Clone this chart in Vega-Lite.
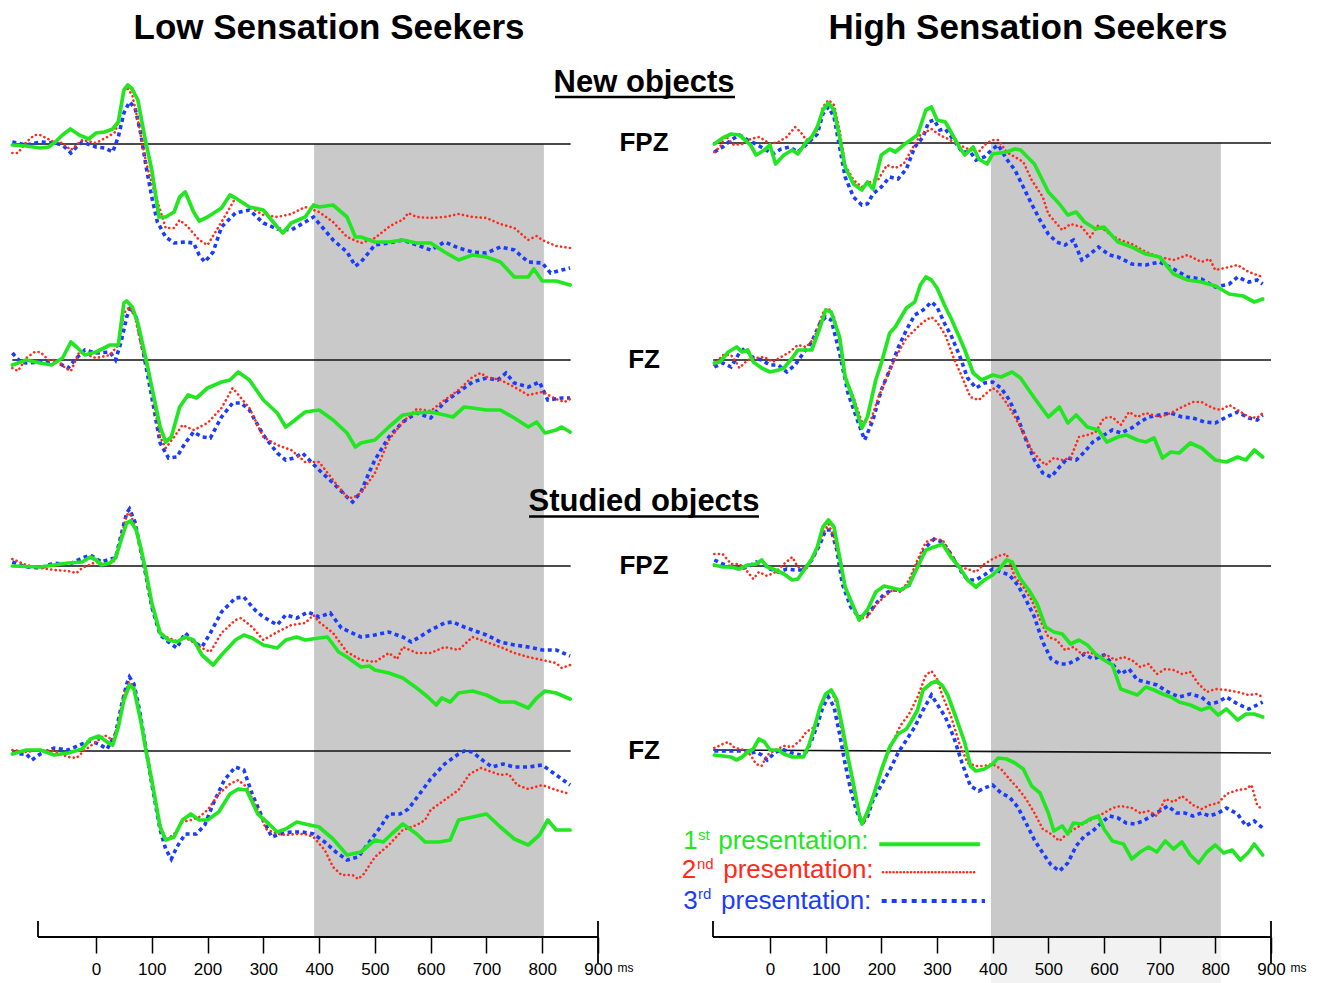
{
"$schema":"https://vega.github.io/schema/vega-lite/v6.json",
"width":1327,"height":937,
"autosize":{"type":"none"},
"padding":{"left":0,"top":0,"right":0,"bottom":46},
"background":"white",
"config":{"view":{"stroke":null},"font":"Liberation Sans","text":{"font":"Liberation Sans"}},
"resolve":{"scale":{"x":"independent","y":"independent"},"axis":{"x":"independent","y":"independent"}},
"datasets":{
"lo_fpzn_1":[{"t":-150,"v":-0.1},{"t":-125,"v":-0.2},{"t":-100,"v":-0.4},{"t":-85,"v":-0.3},{"t":-73,"v":0.2},{"t":-60,"v":0.9},{"t":-46,"v":1.5},{"t":-30,"v":0.9},{"t":-13,"v":0.5},{"t":0,"v":1.1},{"t":15,"v":1.2},{"t":30,"v":1.5},{"t":40,"v":2.2},{"t":50,"v":5.4},{"t":57,"v":5.9},{"t":65,"v":5.5},{"t":75,"v":4.4},{"t":85,"v":1.4},{"t":90,"v":0},{"t":100,"v":-2.6},{"t":113,"v":-7.3},{"t":125,"v":-7.3},{"t":140,"v":-6.8},{"t":150,"v":-5.3},{"t":160,"v":-4.8},{"t":175,"v":-6.8},{"t":185,"v":-7.7},{"t":200,"v":-7.3},{"t":225,"v":-6.4},{"t":240,"v":-5.1},{"t":250,"v":-5.4},{"t":275,"v":-6.3},{"t":300,"v":-6.6},{"t":325,"v":-8.3},{"t":335,"v":-8.9},{"t":350,"v":-7.9},{"t":375,"v":-7.3},{"t":390,"v":-6.1},{"t":400,"v":-6.3},{"t":425,"v":-6.1},{"t":450,"v":-7.3},{"t":465,"v":-9.3},{"t":475,"v":-9.3},{"t":500,"v":-9.8},{"t":525,"v":-9.8},{"t":550,"v":-9.6},{"t":575,"v":-9.9},{"t":600,"v":-9.9},{"t":625,"v":-10.8},{"t":650,"v":-11.6},{"t":675,"v":-11.1},{"t":700,"v":-11.3},{"t":725,"v":-11.8},{"t":750,"v":-13.3},{"t":775,"v":-13.3},{"t":785,"v":-12.5},{"t":800,"v":-13.7},{"t":825,"v":-13.7},{"t":850,"v":-14.1}],
"lo_fpzn_2":[{"t":-150,"v":-0.9},{"t":-140,"v":-0.9},{"t":-125,"v":0.2},{"t":-110,"v":0.9},{"t":-100,"v":0.9},{"t":-75,"v":0.2},{"t":-60,"v":0.1},{"t":-45,"v":-0.6},{"t":-25,"v":0.4},{"t":0,"v":0.1},{"t":20,"v":0.7},{"t":35,"v":1.2},{"t":50,"v":5.1},{"t":55,"v":5.7},{"t":65,"v":4.9},{"t":75,"v":2.4},{"t":90,"v":-1.9},{"t":100,"v":-3.9},{"t":125,"v":-8.4},{"t":140,"v":-8.4},{"t":150,"v":-7.6},{"t":165,"v":-8.3},{"t":185,"v":-9.6},{"t":200,"v":-10.1},{"t":225,"v":-7.8},{"t":250,"v":-5.4},{"t":275,"v":-6.3},{"t":300,"v":-7.1},{"t":325,"v":-7.3},{"t":350,"v":-7.0},{"t":375,"v":-6.3},{"t":400,"v":-6.8},{"t":425,"v":-7.8},{"t":450,"v":-9.3},{"t":475,"v":-9.9},{"t":500,"v":-9.4},{"t":525,"v":-8.3},{"t":540,"v":-7.8},{"t":550,"v":-7.6},{"t":560,"v":-6.9},{"t":575,"v":-7.3},{"t":600,"v":-7.4},{"t":625,"v":-7.3},{"t":650,"v":-7.0},{"t":675,"v":-7.3},{"t":700,"v":-7.4},{"t":725,"v":-8.0},{"t":750,"v":-8.4},{"t":775,"v":-9.6},{"t":790,"v":-9.2},{"t":800,"v":-9.6},{"t":825,"v":-10.2},{"t":850,"v":-10.4}],
"lo_fpzn_3":[{"t":-150,"v":0.2},{"t":-125,"v":-0.1},{"t":-100,"v":0.2},{"t":-75,"v":0.1},{"t":-60,"v":-0.1},{"t":-45,"v":-0.9},{"t":-35,"v":-0.3},{"t":-25,"v":0.2},{"t":0,"v":-0.3},{"t":15,"v":-0.4},{"t":30,"v":-0.8},{"t":40,"v":0.7},{"t":50,"v":3.1},{"t":60,"v":4.2},{"t":70,"v":3.6},{"t":80,"v":1.1},{"t":90,"v":-2.3},{"t":100,"v":-5.3},{"t":110,"v":-7.8},{"t":125,"v":-9.3},{"t":140,"v":-9.9},{"t":160,"v":-9.8},{"t":175,"v":-9.9},{"t":185,"v":-11.1},{"t":195,"v":-11.8},{"t":210,"v":-10.8},{"t":225,"v":-8.3},{"t":250,"v":-6.9},{"t":275,"v":-6.6},{"t":300,"v":-7.9},{"t":325,"v":-8.5},{"t":350,"v":-8.6},{"t":375,"v":-7.8},{"t":390,"v":-7.3},{"t":410,"v":-8.6},{"t":425,"v":-9.6},{"t":450,"v":-10.8},{"t":465,"v":-12.2},{"t":475,"v":-11.8},{"t":500,"v":-10.1},{"t":525,"v":-9.9},{"t":550,"v":-9.6},{"t":575,"v":-10.1},{"t":600,"v":-10.6},{"t":625,"v":-9.8},{"t":650,"v":-10.4},{"t":675,"v":-10.8},{"t":700,"v":-10.9},{"t":725,"v":-10.3},{"t":750,"v":-10.6},{"t":775,"v":-11.8},{"t":800,"v":-11.9},{"t":815,"v":-12.9},{"t":835,"v":-12.6},{"t":850,"v":-12.4}],
"lo_fzn_1":[{"t":-150,"v":-0.5},{"t":-125,"v":0},{"t":-100,"v":-0.3},{"t":-80,"v":-0.5},{"t":-60,"v":0.2},{"t":-45,"v":1.8},{"t":-35,"v":1.3},{"t":-20,"v":0.5},{"t":0,"v":0.8},{"t":25,"v":1.5},{"t":40,"v":1.5},{"t":50,"v":5.7},{"t":55,"v":5.9},{"t":65,"v":5.3},{"t":75,"v":3.7},{"t":90,"v":0},{"t":100,"v":-2.7},{"t":115,"v":-6.7},{"t":125,"v":-8.2},{"t":135,"v":-7.7},{"t":150,"v":-4.7},{"t":165,"v":-3.5},{"t":180,"v":-3.8},{"t":200,"v":-2.8},{"t":225,"v":-2.2},{"t":240,"v":-2.0},{"t":255,"v":-1.2},{"t":275,"v":-2.0},{"t":300,"v":-4.0},{"t":325,"v":-5.3},{"t":340,"v":-6.7},{"t":350,"v":-6.3},{"t":375,"v":-5.2},{"t":400,"v":-5.0},{"t":425,"v":-6.0},{"t":450,"v":-7.3},{"t":465,"v":-8.7},{"t":475,"v":-8.3},{"t":500,"v":-8.0},{"t":525,"v":-6.7},{"t":550,"v":-5.5},{"t":575,"v":-5.3},{"t":600,"v":-5.2},{"t":625,"v":-5.5},{"t":640,"v":-5.7},{"t":660,"v":-4.7},{"t":675,"v":-4.8},{"t":700,"v":-5.0},{"t":725,"v":-5.0},{"t":750,"v":-5.8},{"t":775,"v":-6.7},{"t":790,"v":-6.2},{"t":805,"v":-7.3},{"t":825,"v":-7.0},{"t":835,"v":-6.7},{"t":850,"v":-7.2}],
"lo_fzn_2":[{"t":-150,"v":-0.8},{"t":-140,"v":-1.1},{"t":-125,"v":0.2},{"t":-110,"v":0.8},{"t":-100,"v":0.8},{"t":-85,"v":0},{"t":-70,"v":0},{"t":-55,"v":-0.8},{"t":-45,"v":-1.1},{"t":-30,"v":0.8},{"t":0,"v":0.2},{"t":25,"v":0.5},{"t":40,"v":1.5},{"t":50,"v":4.7},{"t":60,"v":5.3},{"t":70,"v":4.3},{"t":80,"v":1.7},{"t":90,"v":-0.3},{"t":100,"v":-3.0},{"t":115,"v":-7.7},{"t":125,"v":-8.8},{"t":140,"v":-7.7},{"t":155,"v":-6.5},{"t":175,"v":-7.0},{"t":200,"v":-6.3},{"t":225,"v":-4.8},{"t":245,"v":-2.8},{"t":260,"v":-3.8},{"t":275,"v":-4.8},{"t":300,"v":-7.7},{"t":325,"v":-8.5},{"t":350,"v":-9.0},{"t":375,"v":-10.2},{"t":400,"v":-10.2},{"t":425,"v":-12.0},{"t":450,"v":-13.7},{"t":460,"v":-13.8},{"t":475,"v":-13.3},{"t":500,"v":-11.3},{"t":525,"v":-8.0},{"t":550,"v":-6.2},{"t":575,"v":-4.9},{"t":600,"v":-5.1},{"t":625,"v":-4.0},{"t":650,"v":-3.0},{"t":675,"v":-1.7},{"t":690,"v":-1.3},{"t":700,"v":-1.7},{"t":725,"v":-2.0},{"t":750,"v":-2.7},{"t":775,"v":-3.5},{"t":800,"v":-3.2},{"t":825,"v":-3.9},{"t":840,"v":-4.2},{"t":850,"v":-3.9}],
"lo_fzn_3":[{"t":-150,"v":0.7},{"t":-135,"v":-0.2},{"t":-125,"v":-0.3},{"t":-100,"v":-0.2},{"t":-75,"v":-0.1},{"t":-50,"v":-0.8},{"t":-35,"v":0.2},{"t":-20,"v":1.0},{"t":0,"v":0.7},{"t":25,"v":0.8},{"t":35,"v":0},{"t":45,"v":1.8},{"t":55,"v":4.3},{"t":62,"v":5.3},{"t":72,"v":4.3},{"t":85,"v":0.7},{"t":100,"v":-3.7},{"t":115,"v":-8.3},{"t":130,"v":-9.8},{"t":145,"v":-9.7},{"t":160,"v":-8.3},{"t":175,"v":-7.2},{"t":190,"v":-7.7},{"t":205,"v":-7.8},{"t":225,"v":-5.7},{"t":245,"v":-4.3},{"t":260,"v":-4.3},{"t":275,"v":-5.0},{"t":300,"v":-7.5},{"t":325,"v":-9.3},{"t":340,"v":-10.0},{"t":355,"v":-9.8},{"t":370,"v":-9.3},{"t":400,"v":-11.0},{"t":425,"v":-12.3},{"t":450,"v":-13.7},{"t":460,"v":-14.2},{"t":475,"v":-13.2},{"t":490,"v":-11.2},{"t":500,"v":-10.0},{"t":525,"v":-7.7},{"t":550,"v":-6.2},{"t":575,"v":-5.3},{"t":600,"v":-5.8},{"t":625,"v":-4.2},{"t":650,"v":-3.2},{"t":675,"v":-2.2},{"t":700,"v":-1.8},{"t":720,"v":-2.0},{"t":735,"v":-1.3},{"t":750,"v":-2.3},{"t":775,"v":-2.7},{"t":795,"v":-2.2},{"t":810,"v":-4.0},{"t":835,"v":-3.8},{"t":850,"v":-3.8}],
"lo_fpzs_1":[{"t":-150,"v":0},{"t":-100,"v":-0.1},{"t":-50,"v":0.3},{"t":-25,"v":0.4},{"t":-10,"v":0.9},{"t":0,"v":0.6},{"t":10,"v":0.1},{"t":25,"v":0.3},{"t":35,"v":0.8},{"t":45,"v":2.6},{"t":55,"v":4.3},{"t":62,"v":4.5},{"t":72,"v":3.6},{"t":80,"v":1.9},{"t":90,"v":-0.7},{"t":100,"v":-3.7},{"t":115,"v":-6.7},{"t":130,"v":-7.4},{"t":145,"v":-7.6},{"t":160,"v":-7.1},{"t":175,"v":-7.4},{"t":190,"v":-8.9},{"t":210,"v":-9.9},{"t":225,"v":-8.9},{"t":250,"v":-7.4},{"t":265,"v":-6.9},{"t":280,"v":-7.2},{"t":300,"v":-7.9},{"t":325,"v":-8.2},{"t":340,"v":-7.4},{"t":360,"v":-7.1},{"t":375,"v":-7.4},{"t":400,"v":-7.2},{"t":415,"v":-7.1},{"t":435,"v":-8.6},{"t":450,"v":-9.1},{"t":475,"v":-10.1},{"t":490,"v":-10.0},{"t":500,"v":-10.4},{"t":525,"v":-10.7},{"t":550,"v":-11.2},{"t":575,"v":-12.2},{"t":595,"v":-13.1},{"t":610,"v":-13.9},{"t":620,"v":-13.2},{"t":635,"v":-13.6},{"t":650,"v":-12.7},{"t":675,"v":-12.5},{"t":700,"v":-12.9},{"t":725,"v":-13.6},{"t":750,"v":-13.6},{"t":775,"v":-14.2},{"t":790,"v":-13.2},{"t":805,"v":-12.5},{"t":825,"v":-12.7},{"t":850,"v":-13.3}],
"lo_fpzs_2":[{"t":-150,"v":0.7},{"t":-125,"v":0.1},{"t":-100,"v":-0.2},{"t":-75,"v":-0.4},{"t":-50,"v":-0.5},{"t":-35,"v":-0.7},{"t":-25,"v":-0.2},{"t":0,"v":0.4},{"t":20,"v":0.1},{"t":35,"v":0.6},{"t":45,"v":2.9},{"t":55,"v":5.1},{"t":60,"v":5.3},{"t":70,"v":4.1},{"t":80,"v":1.6},{"t":90,"v":-1.1},{"t":100,"v":-4.1},{"t":115,"v":-6.7},{"t":130,"v":-7.2},{"t":145,"v":-7.5},{"t":160,"v":-7.2},{"t":175,"v":-7.6},{"t":190,"v":-8.2},{"t":205,"v":-8.6},{"t":225,"v":-6.7},{"t":250,"v":-5.4},{"t":260,"v":-5.2},{"t":280,"v":-6.1},{"t":300,"v":-7.4},{"t":325,"v":-6.6},{"t":350,"v":-5.9},{"t":375,"v":-5.7},{"t":390,"v":-4.9},{"t":400,"v":-5.6},{"t":425,"v":-6.7},{"t":450,"v":-8.6},{"t":475,"v":-9.4},{"t":500,"v":-9.6},{"t":525,"v":-8.7},{"t":540,"v":-9.3},{"t":550,"v":-8.1},{"t":575,"v":-8.7},{"t":600,"v":-8.7},{"t":625,"v":-8.1},{"t":650,"v":-8.4},{"t":675,"v":-7.1},{"t":700,"v":-7.6},{"t":725,"v":-8.1},{"t":750,"v":-8.7},{"t":775,"v":-9.1},{"t":800,"v":-9.4},{"t":825,"v":-9.7},{"t":835,"v":-10.2},{"t":850,"v":-9.9}],
"lo_fpzs_3":[{"t":-150,"v":0.4},{"t":-125,"v":-0.1},{"t":-100,"v":-0.2},{"t":-75,"v":0.3},{"t":-50,"v":0.1},{"t":-25,"v":0.8},{"t":-10,"v":1.1},{"t":10,"v":0.4},{"t":25,"v":0.7},{"t":35,"v":0.8},{"t":45,"v":3.1},{"t":55,"v":5.3},{"t":60,"v":5.7},{"t":70,"v":4.4},{"t":80,"v":1.6},{"t":90,"v":-1.1},{"t":100,"v":-4.1},{"t":115,"v":-6.9},{"t":130,"v":-7.6},{"t":145,"v":-8.2},{"t":160,"v":-6.7},{"t":175,"v":-7.6},{"t":190,"v":-8.1},{"t":205,"v":-6.7},{"t":225,"v":-4.6},{"t":250,"v":-3.2},{"t":265,"v":-3.1},{"t":285,"v":-4.4},{"t":300,"v":-5.1},{"t":325,"v":-5.9},{"t":340,"v":-4.9},{"t":360,"v":-5.2},{"t":380,"v":-4.6},{"t":400,"v":-5.1},{"t":420,"v":-4.7},{"t":440,"v":-6.2},{"t":475,"v":-7.1},{"t":500,"v":-6.9},{"t":525,"v":-6.6},{"t":550,"v":-7.1},{"t":565,"v":-7.6},{"t":580,"v":-7.1},{"t":600,"v":-6.4},{"t":625,"v":-5.7},{"t":640,"v":-5.6},{"t":660,"v":-6.1},{"t":675,"v":-6.4},{"t":700,"v":-6.9},{"t":725,"v":-7.6},{"t":750,"v":-7.9},{"t":775,"v":-8.1},{"t":800,"v":-8.4},{"t":825,"v":-8.4},{"t":850,"v":-9.0}],
"lo_fzs_1":[{"t":-150,"v":-0.3},{"t":-125,"v":0.1},{"t":-100,"v":0.1},{"t":-75,"v":-0.4},{"t":-50,"v":-0.2},{"t":-25,"v":0.2},{"t":-10,"v":1.2},{"t":5,"v":1.5},{"t":20,"v":0.9},{"t":30,"v":0.6},{"t":40,"v":2.4},{"t":50,"v":5.1},{"t":60,"v":6.6},{"t":68,"v":6.2},{"t":80,"v":3.1},{"t":90,"v":-0.1},{"t":100,"v":-2.9},{"t":115,"v":-7.6},{"t":125,"v":-8.9},{"t":140,"v":-8.6},{"t":155,"v":-6.9},{"t":170,"v":-6.3},{"t":185,"v":-6.9},{"t":200,"v":-6.9},{"t":220,"v":-6.1},{"t":240,"v":-4.3},{"t":255,"v":-3.8},{"t":270,"v":-3.9},{"t":290,"v":-6.3},{"t":310,"v":-7.3},{"t":325,"v":-8.1},{"t":340,"v":-7.8},{"t":360,"v":-7.1},{"t":375,"v":-7.3},{"t":400,"v":-7.6},{"t":425,"v":-8.8},{"t":450,"v":-10.4},{"t":475,"v":-10.1},{"t":500,"v":-8.9},{"t":515,"v":-9.1},{"t":530,"v":-8.3},{"t":550,"v":-7.3},{"t":575,"v":-8.3},{"t":590,"v":-9.1},{"t":615,"v":-9.1},{"t":635,"v":-8.9},{"t":650,"v":-6.9},{"t":675,"v":-6.6},{"t":700,"v":-6.3},{"t":725,"v":-7.6},{"t":750,"v":-8.8},{"t":775,"v":-9.4},{"t":795,"v":-8.4},{"t":810,"v":-6.9},{"t":825,"v":-7.9},{"t":850,"v":-7.9}],
"lo_fzs_2":[{"t":-150,"v":0.1},{"t":-125,"v":-0.1},{"t":-100,"v":0.1},{"t":-75,"v":0},{"t":-50,"v":-0.6},{"t":-35,"v":-0.7},{"t":-20,"v":0.1},{"t":0,"v":0.9},{"t":15,"v":1.6},{"t":30,"v":1.1},{"t":40,"v":2.7},{"t":50,"v":5.7},{"t":60,"v":6.9},{"t":68,"v":6.4},{"t":80,"v":3.2},{"t":90,"v":0.1},{"t":100,"v":-3.3},{"t":115,"v":-7.4},{"t":125,"v":-8.9},{"t":140,"v":-8.3},{"t":155,"v":-7.1},{"t":170,"v":-6.9},{"t":185,"v":-6.6},{"t":200,"v":-5.9},{"t":220,"v":-4.3},{"t":240,"v":-3.3},{"t":255,"v":-2.9},{"t":270,"v":-3.6},{"t":290,"v":-5.9},{"t":305,"v":-7.8},{"t":325,"v":-8.3},{"t":340,"v":-8.4},{"t":360,"v":-8.3},{"t":375,"v":-8.3},{"t":390,"v":-8.6},{"t":410,"v":-9.9},{"t":425,"v":-11.6},{"t":440,"v":-12.4},{"t":460,"v":-12.4},{"t":470,"v":-12.8},{"t":480,"v":-12.3},{"t":500,"v":-10.6},{"t":525,"v":-9.4},{"t":550,"v":-7.9},{"t":575,"v":-7.4},{"t":590,"v":-6.9},{"t":600,"v":-5.9},{"t":625,"v":-4.9},{"t":650,"v":-3.9},{"t":670,"v":-2.3},{"t":690,"v":-1.7},{"t":710,"v":-2.1},{"t":725,"v":-2.4},{"t":740,"v":-2.3},{"t":755,"v":-3.4},{"t":775,"v":-3.8},{"t":800,"v":-3.4},{"t":825,"v":-3.9},{"t":850,"v":-4.3}],
"lo_fzs_3":[{"t":-150,"v":-0.1},{"t":-135,"v":-0.3},{"t":-125,"v":-0.3},{"t":-115,"v":-0.9},{"t":-100,"v":-0.3},{"t":-75,"v":0.3},{"t":-50,"v":0.1},{"t":-25,"v":0.7},{"t":-10,"v":1.0},{"t":5,"v":0.7},{"t":20,"v":0.2},{"t":35,"v":1.7},{"t":45,"v":4.4},{"t":55,"v":6.7},{"t":60,"v":7.4},{"t":68,"v":6.7},{"t":78,"v":4.1},{"t":90,"v":0.1},{"t":100,"v":-3.3},{"t":115,"v":-7.9},{"t":125,"v":-9.8},{"t":135,"v":-10.8},{"t":145,"v":-9.6},{"t":160,"v":-8.3},{"t":180,"v":-8.3},{"t":195,"v":-7.4},{"t":210,"v":-5.3},{"t":230,"v":-2.9},{"t":250,"v":-1.6},{"t":265,"v":-1.9},{"t":280,"v":-4.3},{"t":300,"v":-6.9},{"t":315,"v":-8.6},{"t":330,"v":-8.3},{"t":350,"v":-8.1},{"t":370,"v":-8.1},{"t":390,"v":-8.3},{"t":410,"v":-9.1},{"t":430,"v":-10.1},{"t":450,"v":-10.9},{"t":470,"v":-10.6},{"t":490,"v":-9.1},{"t":510,"v":-7.6},{"t":525,"v":-6.3},{"t":545,"v":-6.3},{"t":560,"v":-5.8},{"t":580,"v":-4.3},{"t":600,"v":-2.8},{"t":625,"v":-1.3},{"t":650,"v":-0.3},{"t":660,"v":0},{"t":675,"v":-0.1},{"t":690,"v":-0.8},{"t":710,"v":-1.6},{"t":730,"v":-1.3},{"t":750,"v":-1.6},{"t":775,"v":-1.6},{"t":800,"v":-1.4},{"t":825,"v":-2.4},{"t":850,"v":-3.4}],
"hi_fpzn_1":[{"t":-100,"v":-0.1},{"t":-85,"v":0.5},{"t":-70,"v":0.9},{"t":-55,"v":0.8},{"t":-45,"v":0.3},{"t":-35,"v":-0.2},{"t":-25,"v":-1.2},{"t":-10,"v":-0.7},{"t":0,"v":-0.2},{"t":10,"v":-2.1},{"t":25,"v":-1.2},{"t":40,"v":-0.7},{"t":50,"v":-1.1},{"t":65,"v":0.1},{"t":75,"v":0.6},{"t":85,"v":1.6},{"t":95,"v":3.3},{"t":105,"v":4.0},{"t":115,"v":3.3},{"t":125,"v":0.6},{"t":135,"v":-2.4},{"t":150,"v":-4.1},{"t":165,"v":-4.7},{"t":175,"v":-3.9},{"t":185,"v":-4.6},{"t":200,"v":-1.2},{"t":215,"v":-0.6},{"t":225,"v":-0.9},{"t":240,"v":-0.2},{"t":255,"v":0.4},{"t":265,"v":0.8},{"t":280,"v":3.3},{"t":290,"v":3.6},{"t":300,"v":2.3},{"t":315,"v":2.1},{"t":325,"v":1.1},{"t":340,"v":-0.4},{"t":350,"v":-1.2},{"t":365,"v":-0.4},{"t":375,"v":-1.6},{"t":390,"v":-2.1},{"t":400,"v":-1.1},{"t":425,"v":-0.9},{"t":440,"v":-0.6},{"t":450,"v":-0.7},{"t":475,"v":-2.1},{"t":500,"v":-4.9},{"t":520,"v":-6.1},{"t":535,"v":-7.2},{"t":550,"v":-6.9},{"t":565,"v":-7.9},{"t":585,"v":-8.6},{"t":600,"v":-8.4},{"t":625,"v":-9.9},{"t":650,"v":-10.4},{"t":675,"v":-11.1},{"t":700,"v":-11.4},{"t":725,"v":-13.1},{"t":750,"v":-13.7},{"t":775,"v":-13.9},{"t":800,"v":-14.3},{"t":825,"v":-15.1},{"t":850,"v":-15.3},{"t":870,"v":-15.9},{"t":885,"v":-15.6}],
"hi_fpzn_2":[{"t":-100,"v":-0.9},{"t":-90,"v":-0.4},{"t":-80,"v":0.7},{"t":-65,"v":-0.2},{"t":-50,"v":-0.1},{"t":-35,"v":0.4},{"t":-20,"v":0.6},{"t":-10,"v":0.3},{"t":0,"v":-0.1},{"t":15,"v":0.1},{"t":30,"v":0.6},{"t":45,"v":1.6},{"t":55,"v":1.1},{"t":65,"v":0.3},{"t":75,"v":0.6},{"t":85,"v":1.3},{"t":95,"v":3.6},{"t":105,"v":4.3},{"t":115,"v":3.8},{"t":125,"v":1.3},{"t":135,"v":-2.2},{"t":150,"v":-3.7},{"t":165,"v":-4.4},{"t":180,"v":-3.9},{"t":195,"v":-3.6},{"t":210,"v":-2.2},{"t":225,"v":-2.5},{"t":240,"v":-2.1},{"t":255,"v":-0.6},{"t":270,"v":0.8},{"t":290,"v":1.4},{"t":305,"v":0.8},{"t":320,"v":0.4},{"t":340,"v":-0.2},{"t":360,"v":-0.7},{"t":375,"v":-0.9},{"t":385,"v":-0.2},{"t":400,"v":0.3},{"t":410,"v":0.3},{"t":425,"v":-0.9},{"t":440,"v":-1.4},{"t":455,"v":-1.9},{"t":470,"v":-3.7},{"t":490,"v":-5.4},{"t":500,"v":-7.1},{"t":525,"v":-8.7},{"t":540,"v":-8.1},{"t":560,"v":-8.4},{"t":575,"v":-9.4},{"t":590,"v":-8.2},{"t":610,"v":-9.1},{"t":625,"v":-9.6},{"t":650,"v":-10.1},{"t":675,"v":-10.9},{"t":700,"v":-11.4},{"t":725,"v":-11.7},{"t":750,"v":-11.2},{"t":775,"v":-11.9},{"t":790,"v":-11.6},{"t":800,"v":-12.7},{"t":825,"v":-12.4},{"t":840,"v":-12.2},{"t":860,"v":-12.9},{"t":875,"v":-13.2},{"t":885,"v":-13.4}],
"hi_fpzn_3":[{"t":-100,"v":-0.9},{"t":-85,"v":-0.4},{"t":-70,"v":0.3},{"t":-55,"v":0.8},{"t":-40,"v":0.3},{"t":-25,"v":-0.1},{"t":-10,"v":-0.6},{"t":5,"v":-1.1},{"t":20,"v":-0.6},{"t":35,"v":-0.4},{"t":50,"v":-0.9},{"t":60,"v":-0.4},{"t":70,"v":0.1},{"t":85,"v":0.9},{"t":95,"v":2.9},{"t":105,"v":3.6},{"t":115,"v":2.6},{"t":125,"v":-0.4},{"t":135,"v":-3.4},{"t":150,"v":-5.4},{"t":165,"v":-6.2},{"t":175,"v":-6.1},{"t":185,"v":-5.1},{"t":200,"v":-4.4},{"t":215,"v":-3.4},{"t":230,"v":-3.6},{"t":245,"v":-2.6},{"t":260,"v":-0.4},{"t":275,"v":0.6},{"t":285,"v":2.1},{"t":295,"v":2.3},{"t":305,"v":1.3},{"t":315,"v":1.4},{"t":330,"v":0.3},{"t":345,"v":-0.9},{"t":360,"v":-0.9},{"t":370,"v":-1.7},{"t":385,"v":-1.4},{"t":400,"v":-0.6},{"t":410,"v":-0.2},{"t":425,"v":-1.6},{"t":440,"v":-2.7},{"t":455,"v":-4.4},{"t":470,"v":-6.1},{"t":485,"v":-7.7},{"t":500,"v":-9.1},{"t":515,"v":-9.9},{"t":530,"v":-10.2},{"t":545,"v":-9.7},{"t":560,"v":-11.7},{"t":575,"v":-11.1},{"t":590,"v":-10.4},{"t":610,"v":-11.2},{"t":625,"v":-11.4},{"t":650,"v":-12.1},{"t":675,"v":-12.2},{"t":700,"v":-11.9},{"t":725,"v":-12.6},{"t":750,"v":-13.4},{"t":775,"v":-13.6},{"t":800,"v":-14.4},{"t":825,"v":-14.1},{"t":840,"v":-13.4},{"t":860,"v":-13.9},{"t":875,"v":-13.7},{"t":885,"v":-14.1}],
"hi_fzn_1":[{"t":-100,"v":-0.3},{"t":-90,"v":-0.2},{"t":-75,"v":0.8},{"t":-60,"v":1.3},{"t":-50,"v":0.8},{"t":-40,"v":1.0},{"t":-30,"v":-0.2},{"t":-15,"v":-0.8},{"t":0,"v":-1.2},{"t":15,"v":-1.0},{"t":25,"v":-0.8},{"t":40,"v":0.2},{"t":50,"v":1.0},{"t":65,"v":1.0},{"t":75,"v":1.0},{"t":90,"v":3.3},{"t":100,"v":5.0},{"t":110,"v":4.8},{"t":125,"v":2.3},{"t":135,"v":-1.7},{"t":150,"v":-4.0},{"t":165,"v":-6.8},{"t":175,"v":-5.7},{"t":190,"v":-2.0},{"t":200,"v":-0.3},{"t":215,"v":2.7},{"t":225,"v":3.3},{"t":245,"v":5.2},{"t":260,"v":5.8},{"t":270,"v":7.5},{"t":280,"v":8.3},{"t":290,"v":8.0},{"t":300,"v":7.2},{"t":315,"v":5.3},{"t":325,"v":4.2},{"t":340,"v":2.3},{"t":350,"v":1.0},{"t":365,"v":-1.3},{"t":380,"v":-2.0},{"t":400,"v":-1.5},{"t":415,"v":-1.7},{"t":435,"v":-1.2},{"t":450,"v":-1.8},{"t":475,"v":-3.8},{"t":500,"v":-5.7},{"t":520,"v":-4.7},{"t":535,"v":-6.3},{"t":550,"v":-5.5},{"t":570,"v":-6.7},{"t":590,"v":-7.0},{"t":605,"v":-8.2},{"t":625,"v":-7.7},{"t":640,"v":-7.5},{"t":660,"v":-8.0},{"t":675,"v":-8.2},{"t":690,"v":-7.8},{"t":705,"v":-9.8},{"t":720,"v":-9.2},{"t":735,"v":-9.3},{"t":755,"v":-8.3},{"t":775,"v":-8.8},{"t":800,"v":-10.0},{"t":820,"v":-10.2},{"t":840,"v":-9.7},{"t":855,"v":-10.0},{"t":870,"v":-9.0},{"t":885,"v":-9.7}],
"hi_fzn_2":[{"t":-100,"v":-0.5},{"t":-85,"v":0.5},{"t":-70,"v":0.5},{"t":-60,"v":-0.3},{"t":-55,"v":-0.8},{"t":-40,"v":0},{"t":-25,"v":0.2},{"t":-10,"v":0.3},{"t":5,"v":-0.2},{"t":20,"v":0.3},{"t":35,"v":0.8},{"t":50,"v":1.5},{"t":65,"v":1.3},{"t":80,"v":2.2},{"t":95,"v":4.7},{"t":105,"v":5.2},{"t":115,"v":4.3},{"t":125,"v":2.0},{"t":135,"v":-1.7},{"t":150,"v":-3.7},{"t":165,"v":-6.2},{"t":180,"v":-6.2},{"t":195,"v":-3.7},{"t":210,"v":-1.7},{"t":225,"v":0.2},{"t":245,"v":2.2},{"t":260,"v":3.0},{"t":275,"v":3.8},{"t":290,"v":4.3},{"t":300,"v":3.8},{"t":315,"v":2.5},{"t":330,"v":0.2},{"t":345,"v":-1.7},{"t":360,"v":-3.7},{"t":375,"v":-4.0},{"t":385,"v":-3.5},{"t":400,"v":-2.8},{"t":410,"v":-3.2},{"t":425,"v":-4.3},{"t":440,"v":-5.7},{"t":455,"v":-7.3},{"t":470,"v":-9.0},{"t":485,"v":-10.0},{"t":495,"v":-10.5},{"t":510,"v":-9.8},{"t":525,"v":-10.0},{"t":540,"v":-9.8},{"t":555,"v":-7.7},{"t":570,"v":-7.5},{"t":585,"v":-7.2},{"t":600,"v":-5.8},{"t":615,"v":-5.7},{"t":630,"v":-6.5},{"t":645,"v":-5.2},{"t":660,"v":-5.7},{"t":675,"v":-5.3},{"t":700,"v":-5.7},{"t":720,"v":-5.3},{"t":740,"v":-4.7},{"t":760,"v":-4.2},{"t":775,"v":-4.2},{"t":795,"v":-4.8},{"t":810,"v":-5.0},{"t":825,"v":-4.5},{"t":840,"v":-5.0},{"t":860,"v":-5.7},{"t":875,"v":-5.8},{"t":885,"v":-5.3}],
"hi_fzn_3":[{"t":-100,"v":-0.7},{"t":-85,"v":-0.3},{"t":-70,"v":-0.7},{"t":-55,"v":0.7},{"t":-45,"v":1.2},{"t":-30,"v":0.2},{"t":-15,"v":0},{"t":0,"v":-0.5},{"t":15,"v":-0.5},{"t":30,"v":-1.2},{"t":45,"v":-0.5},{"t":60,"v":0.7},{"t":75,"v":1.8},{"t":90,"v":3.7},{"t":100,"v":4.3},{"t":110,"v":4.0},{"t":125,"v":0.7},{"t":140,"v":-3.3},{"t":155,"v":-5.7},{"t":170,"v":-8.0},{"t":185,"v":-6.0},{"t":200,"v":-3.0},{"t":215,"v":-1.0},{"t":230,"v":1.2},{"t":245,"v":3.0},{"t":260,"v":4.5},{"t":275,"v":5.0},{"t":290,"v":5.8},{"t":300,"v":5.3},{"t":315,"v":3.5},{"t":325,"v":2.5},{"t":340,"v":0.5},{"t":355,"v":-1.8},{"t":370,"v":-2.8},{"t":385,"v":-2.3},{"t":400,"v":-2.2},{"t":415,"v":-2.8},{"t":430,"v":-4.0},{"t":445,"v":-5.8},{"t":460,"v":-8.0},{"t":475,"v":-10.0},{"t":490,"v":-11.3},{"t":505,"v":-11.7},{"t":520,"v":-10.7},{"t":535,"v":-9.8},{"t":550,"v":-10.0},{"t":565,"v":-9.2},{"t":580,"v":-8.2},{"t":600,"v":-7.5},{"t":615,"v":-7.0},{"t":630,"v":-7.3},{"t":650,"v":-6.8},{"t":665,"v":-6.2},{"t":680,"v":-5.7},{"t":700,"v":-5.5},{"t":720,"v":-5.3},{"t":740,"v":-5.7},{"t":760,"v":-5.8},{"t":780,"v":-6.2},{"t":800,"v":-6.3},{"t":820,"v":-5.7},{"t":840,"v":-5.2},{"t":860,"v":-5.8},{"t":875,"v":-6.0},{"t":885,"v":-5.5}],
"hi_fpzs_1":[{"t":-100,"v":0.1},{"t":-85,"v":-0.1},{"t":-70,"v":-0.1},{"t":-55,"v":-0.3},{"t":-40,"v":0.1},{"t":-25,"v":0.2},{"t":-15,"v":0.6},{"t":-5,"v":-0.1},{"t":10,"v":-0.4},{"t":25,"v":-0.8},{"t":40,"v":-1.4},{"t":50,"v":-1.3},{"t":65,"v":-0.1},{"t":75,"v":0.7},{"t":85,"v":1.9},{"t":95,"v":3.9},{"t":105,"v":4.6},{"t":115,"v":3.9},{"t":125,"v":0.9},{"t":135,"v":-2.1},{"t":150,"v":-4.1},{"t":160,"v":-5.4},{"t":175,"v":-4.4},{"t":190,"v":-2.6},{"t":205,"v":-2.0},{"t":220,"v":-2.2},{"t":235,"v":-2.4},{"t":250,"v":-1.9},{"t":265,"v":-0.1},{"t":280,"v":1.6},{"t":295,"v":1.9},{"t":310,"v":2.2},{"t":325,"v":0.9},{"t":340,"v":-0.1},{"t":355,"v":-1.4},{"t":370,"v":-2.1},{"t":385,"v":-1.4},{"t":400,"v":-0.9},{"t":415,"v":-0.1},{"t":425,"v":0.6},{"t":435,"v":0.4},{"t":450,"v":-1.3},{"t":465,"v":-2.4},{"t":480,"v":-3.8},{"t":495,"v":-6.1},{"t":510,"v":-6.6},{"t":525,"v":-6.8},{"t":540,"v":-7.8},{"t":555,"v":-7.4},{"t":570,"v":-7.9},{"t":585,"v":-8.8},{"t":600,"v":-9.4},{"t":615,"v":-9.9},{"t":630,"v":-12.3},{"t":645,"v":-12.6},{"t":660,"v":-12.9},{"t":675,"v":-12.1},{"t":690,"v":-12.4},{"t":705,"v":-12.8},{"t":720,"v":-13.1},{"t":735,"v":-13.6},{"t":755,"v":-13.9},{"t":775,"v":-14.4},{"t":790,"v":-14.1},{"t":805,"v":-14.9},{"t":820,"v":-14.3},{"t":840,"v":-15.4},{"t":855,"v":-14.8},{"t":870,"v":-14.8},{"t":885,"v":-15.1}],
"hi_fpzs_2":[{"t":-100,"v":1.2},{"t":-85,"v":1.2},{"t":-70,"v":0.2},{"t":-55,"v":0.2},{"t":-40,"v":-0.6},{"t":-30,"v":-1.3},{"t":-20,"v":-0.6},{"t":-5,"v":-1.0},{"t":10,"v":-0.6},{"t":25,"v":0.2},{"t":40,"v":0.9},{"t":50,"v":-0.1},{"t":65,"v":-0.3},{"t":80,"v":1.1},{"t":95,"v":3.2},{"t":105,"v":4.2},{"t":115,"v":2.9},{"t":125,"v":0.6},{"t":135,"v":-2.1},{"t":150,"v":-4.1},{"t":160,"v":-5.3},{"t":175,"v":-5.1},{"t":190,"v":-3.9},{"t":205,"v":-3.1},{"t":220,"v":-2.4},{"t":235,"v":-2.6},{"t":250,"v":-1.4},{"t":265,"v":0.6},{"t":280,"v":2.4},{"t":295,"v":2.7},{"t":310,"v":2.6},{"t":325,"v":1.2},{"t":340,"v":-0.1},{"t":355,"v":-0.3},{"t":370,"v":-0.6},{"t":385,"v":0.2},{"t":400,"v":0.7},{"t":415,"v":1.1},{"t":425,"v":1.2},{"t":440,"v":-1.1},{"t":455,"v":-2.1},{"t":470,"v":-3.4},{"t":485,"v":-5.4},{"t":500,"v":-7.1},{"t":515,"v":-7.4},{"t":530,"v":-8.4},{"t":545,"v":-8.1},{"t":560,"v":-8.8},{"t":575,"v":-8.6},{"t":590,"v":-9.1},{"t":605,"v":-8.9},{"t":620,"v":-9.4},{"t":635,"v":-9.1},{"t":650,"v":-9.4},{"t":665,"v":-10.1},{"t":680,"v":-9.8},{"t":695,"v":-10.8},{"t":710,"v":-10.3},{"t":725,"v":-10.4},{"t":740,"v":-10.8},{"t":755,"v":-10.6},{"t":770,"v":-11.8},{"t":785,"v":-12.6},{"t":800,"v":-12.3},{"t":820,"v":-12.4},{"t":840,"v":-12.6},{"t":860,"v":-12.9},{"t":875,"v":-12.8},{"t":885,"v":-13.1}],
"hi_fpzs_3":[{"t":-100,"v":0.6},{"t":-85,"v":0.2},{"t":-70,"v":-0.1},{"t":-55,"v":-0.3},{"t":-40,"v":-0.1},{"t":-25,"v":0.4},{"t":-10,"v":0.1},{"t":0,"v":-0.3},{"t":15,"v":-0.6},{"t":30,"v":-0.3},{"t":45,"v":-0.4},{"t":60,"v":-0.4},{"t":75,"v":0.6},{"t":90,"v":2.2},{"t":100,"v":3.6},{"t":110,"v":3.6},{"t":120,"v":1.6},{"t":130,"v":-1.8},{"t":145,"v":-4.1},{"t":160,"v":-5.1},{"t":175,"v":-4.9},{"t":190,"v":-3.8},{"t":205,"v":-2.8},{"t":220,"v":-2.4},{"t":235,"v":-2.4},{"t":250,"v":-1.9},{"t":265,"v":0.2},{"t":280,"v":1.9},{"t":295,"v":2.7},{"t":310,"v":2.4},{"t":325,"v":1.2},{"t":340,"v":-0.3},{"t":355,"v":-1.4},{"t":370,"v":-1.4},{"t":385,"v":-0.9},{"t":400,"v":-0.3},{"t":415,"v":-0.6},{"t":430,"v":-0.9},{"t":445,"v":-1.9},{"t":460,"v":-3.4},{"t":475,"v":-5.1},{"t":490,"v":-7.6},{"t":505,"v":-9.3},{"t":520,"v":-9.8},{"t":535,"v":-9.8},{"t":550,"v":-9.4},{"t":565,"v":-8.8},{"t":580,"v":-9.3},{"t":600,"v":-8.9},{"t":615,"v":-9.8},{"t":630,"v":-10.8},{"t":645,"v":-10.3},{"t":660,"v":-11.4},{"t":675,"v":-11.6},{"t":695,"v":-11.9},{"t":715,"v":-12.6},{"t":735,"v":-13.1},{"t":755,"v":-12.8},{"t":775,"v":-13.1},{"t":790,"v":-13.8},{"t":805,"v":-13.6},{"t":820,"v":-13.1},{"t":840,"v":-13.8},{"t":860,"v":-14.3},{"t":875,"v":-13.9},{"t":885,"v":-13.6}],
"hi_fzs_1":[{"t":-100,"v":-0.4},{"t":-85,"v":-0.5},{"t":-70,"v":-0.6},{"t":-60,"v":-0.9},{"t":-50,"v":-0.6},{"t":-40,"v":-0.1},{"t":-30,"v":0.2},{"t":-20,"v":1.2},{"t":-10,"v":0.9},{"t":0,"v":0.1},{"t":15,"v":0.1},{"t":25,"v":-0.3},{"t":40,"v":-0.6},{"t":50,"v":-0.6},{"t":60,"v":-0.6},{"t":70,"v":0.6},{"t":80,"v":2.4},{"t":90,"v":4.4},{"t":100,"v":5.7},{"t":110,"v":6.1},{"t":120,"v":5.1},{"t":130,"v":2.4},{"t":140,"v":-0.6},{"t":150,"v":-3.3},{"t":160,"v":-6.3},{"t":165,"v":-7.3},{"t":175,"v":-6.1},{"t":185,"v":-4.6},{"t":200,"v":-1.9},{"t":215,"v":0.4},{"t":230,"v":1.7},{"t":245,"v":2.2},{"t":255,"v":3.1},{"t":265,"v":4.1},{"t":275,"v":6.1},{"t":290,"v":6.8},{"t":300,"v":7.0},{"t":310,"v":6.5},{"t":320,"v":5.5},{"t":335,"v":3.2},{"t":350,"v":0.8},{"t":360,"v":-1.5},{"t":370,"v":-2.0},{"t":385,"v":-1.8},{"t":400,"v":-1.3},{"t":410,"v":-0.7},{"t":425,"v":-0.8},{"t":440,"v":-1.2},{"t":455,"v":-1.8},{"t":470,"v":-3.5},{"t":485,"v":-4.2},{"t":500,"v":-6.2},{"t":510,"v":-8.0},{"t":525,"v":-7.5},{"t":535,"v":-8.3},{"t":545,"v":-7.2},{"t":560,"v":-7.3},{"t":575,"v":-6.8},{"t":590,"v":-6.5},{"t":600,"v":-7.8},{"t":615,"v":-9.0},{"t":635,"v":-9.3},{"t":650,"v":-10.8},{"t":665,"v":-10.1},{"t":680,"v":-9.6},{"t":695,"v":-10.1},{"t":710,"v":-9.0},{"t":725,"v":-9.8},{"t":740,"v":-9.1},{"t":755,"v":-10.4},{"t":770,"v":-11.2},{"t":785,"v":-10.1},{"t":800,"v":-9.4},{"t":815,"v":-10.2},{"t":830,"v":-9.9},{"t":845,"v":-10.9},{"t":860,"v":-10.1},{"t":870,"v":-9.3},{"t":885,"v":-10.4}],
"hi_fzs_2":[{"t":-100,"v":0.3},{"t":-85,"v":0.7},{"t":-75,"v":0.9},{"t":-65,"v":0.4},{"t":-55,"v":0.2},{"t":-45,"v":0.1},{"t":-35,"v":-0.4},{"t":-25,"v":-1.3},{"t":-15,"v":-1.5},{"t":-5,"v":-0.4},{"t":10,"v":0.1},{"t":25,"v":0.5},{"t":40,"v":0.4},{"t":55,"v":1.1},{"t":65,"v":1.9},{"t":80,"v":2.4},{"t":90,"v":4.4},{"t":100,"v":5.7},{"t":110,"v":6.0},{"t":120,"v":4.7},{"t":130,"v":1.7},{"t":140,"v":-0.9},{"t":150,"v":-3.9},{"t":160,"v":-6.3},{"t":168,"v":-7.3},{"t":180,"v":-5.6},{"t":190,"v":-3.6},{"t":205,"v":-1.3},{"t":220,"v":0.9},{"t":235,"v":2.6},{"t":250,"v":3.7},{"t":265,"v":5.4},{"t":280,"v":7.6},{"t":290,"v":8.0},{"t":300,"v":7.2},{"t":310,"v":5.5},{"t":325,"v":3.5},{"t":340,"v":0.8},{"t":355,"v":-1.2},{"t":370,"v":-1.5},{"t":385,"v":-1.5},{"t":400,"v":-1.3},{"t":415,"v":-1.8},{"t":430,"v":-2.8},{"t":445,"v":-3.7},{"t":460,"v":-4.8},{"t":475,"v":-6.2},{"t":490,"v":-7.8},{"t":505,"v":-8.3},{"t":520,"v":-9.0},{"t":535,"v":-8.2},{"t":550,"v":-7.7},{"t":565,"v":-7.2},{"t":580,"v":-6.8},{"t":600,"v":-6.2},{"t":615,"v":-5.7},{"t":630,"v":-5.5},{"t":650,"v":-5.7},{"t":665,"v":-6.2},{"t":680,"v":-6.0},{"t":695,"v":-6.5},{"t":710,"v":-4.8},{"t":725,"v":-5.1},{"t":740,"v":-4.5},{"t":760,"v":-5.4},{"t":775,"v":-5.8},{"t":790,"v":-5.4},{"t":805,"v":-5.2},{"t":820,"v":-4.3},{"t":840,"v":-3.9},{"t":855,"v":-3.8},{"t":865,"v":-3.4},{"t":875,"v":-5.4},{"t":885,"v":-5.9}],
"hi_fzs_3":[{"t":-100,"v":0},{"t":-85,"v":0},{"t":-70,"v":0},{"t":-55,"v":0},{"t":-45,"v":0},{"t":-35,"v":-0.2},{"t":-25,"v":-0.1},{"t":-15,"v":-0.4},{"t":-5,"v":-0.9},{"t":10,"v":-0.1},{"t":25,"v":0.1},{"t":40,"v":-0.2},{"t":55,"v":-0.4},{"t":65,"v":-0.1},{"t":75,"v":1.1},{"t":85,"v":2.6},{"t":95,"v":4.4},{"t":105,"v":5.4},{"t":115,"v":4.4},{"t":125,"v":1.7},{"t":135,"v":-1.3},{"t":145,"v":-3.9},{"t":155,"v":-5.9},{"t":165,"v":-7.3},{"t":175,"v":-6.6},{"t":185,"v":-4.9},{"t":200,"v":-3.4},{"t":215,"v":-1.9},{"t":230,"v":-0.2},{"t":245,"v":1.1},{"t":260,"v":2.4},{"t":275,"v":4.1},{"t":290,"v":5.6},{"t":300,"v":4.7},{"t":315,"v":3.4},{"t":330,"v":1.4},{"t":345,"v":-1.2},{"t":360,"v":-3.5},{"t":375,"v":-4.0},{"t":385,"v":-3.7},{"t":400,"v":-3.4},{"t":415,"v":-4.2},{"t":430,"v":-4.6},{"t":445,"v":-5.6},{"t":460,"v":-7.2},{"t":475,"v":-8.9},{"t":490,"v":-10.2},{"t":505,"v":-11.4},{"t":520,"v":-12.0},{"t":535,"v":-11.2},{"t":550,"v":-9.5},{"t":565,"v":-8.5},{"t":580,"v":-8.0},{"t":595,"v":-7.2},{"t":610,"v":-6.5},{"t":625,"v":-6.7},{"t":640,"v":-7.2},{"t":655,"v":-7.3},{"t":670,"v":-7.0},{"t":685,"v":-6.5},{"t":700,"v":-6.0},{"t":715,"v":-5.5},{"t":730,"v":-6.2},{"t":745,"v":-6.2},{"t":760,"v":-6.5},{"t":775,"v":-6.2},{"t":790,"v":-6.5},{"t":805,"v":-6.2},{"t":820,"v":-5.7},{"t":840,"v":-6.3},{"t":855,"v":-7.5},{"t":870,"v":-7.0},{"t":885,"v":-7.7}]
},
"layer":[
{"data":{"values":[{"from":391,"to":803}]},"mark":{"type":"rect","color":"#c9c9c9"},"encoding":{"x":{"field":"from","type":"quantitative","scale":{"domain":[-172.11,2206.97],"nice":false,"zero":false},"axis":null},"x2":{"field":"to"},"y":{"datum":0,"type":"quantitative","scale":{"domain":[-79.3,14.4],"nice":false,"zero":false},"axis":null},"y2":{"datum":-79.3}}},
{"data":{"values":[{"from":397,"to":810}]},"mark":{"type":"rect","color":"#c9c9c9"},"encoding":{"x":{"field":"from","type":"quantitative","scale":{"domain":[-1383.23,1000.6],"nice":false,"zero":false},"axis":null},"x2":{"field":"to"},"y":{"datum":0,"type":"quantitative","scale":{"domain":[-79.4,14.3],"nice":false,"zero":false},"axis":null},"y2":{"datum":-79.4}}},
{"data":{"values":[{"from":397,"to":810}]},"mark":{"type":"rect","color":"#f2f2f2"},"encoding":{"x":{"field":"from","type":"quantitative","scale":{"domain":[-1383.23,1000.6],"nice":false,"zero":false},"axis":null},"x2":{"field":"to"},"y":{"datum":-79.4,"type":"quantitative","scale":{"domain":[-79.4,14.3],"nice":false,"zero":false},"axis":null},"y2":{"datum":-84.0}}},
{"data":{"values":[{}]},"mark":{"type":"rule","color":"#111","strokeWidth":1.6},"encoding":{"x":{"datum":-150,"type":"quantitative","scale":{"domain":[-172.11,2206.97],"nice":false,"zero":false},"axis":null},"x2":{"datum":851},"y":{"datum":0,"type":"quantitative","scale":{"domain":[-79.3,14.4],"nice":false,"zero":false},"axis":null}}},
{"data":{"values":[{}]},"mark":{"type":"rule","color":"#111","strokeWidth":1.6},"encoding":{"x":{"datum":-150,"type":"quantitative","scale":{"domain":[-172.11,2206.97],"nice":false,"zero":false},"axis":null},"x2":{"datum":851},"y":{"datum":0,"type":"quantitative","scale":{"domain":[-57.7,36],"nice":false,"zero":false},"axis":null}}},
{"data":{"values":[{}]},"mark":{"type":"rule","color":"#111","strokeWidth":1.6},"encoding":{"x":{"datum":-150,"type":"quantitative","scale":{"domain":[-172.11,2206.97],"nice":false,"zero":false},"axis":null},"x2":{"datum":851},"y":{"datum":0,"type":"quantitative","scale":{"domain":[-37.1,56.6],"nice":false,"zero":false},"axis":null}}},
{"data":{"values":[{}]},"mark":{"type":"rule","color":"#111","strokeWidth":1.6},"encoding":{"x":{"datum":-150,"type":"quantitative","scale":{"domain":[-172.11,2206.97],"nice":false,"zero":false},"axis":null},"x2":{"datum":851},"y":{"datum":0,"type":"quantitative","scale":{"domain":[-18.6,75.1],"nice":false,"zero":false},"axis":null}}},
{"data":{"values":[{}]},"mark":{"type":"rule","color":"#111","strokeWidth":1.6},"encoding":{"x":{"datum":-102,"type":"quantitative","scale":{"domain":[-1383.23,1000.6],"nice":false,"zero":false},"axis":null},"x2":{"datum":900},"y":{"datum":0,"type":"quantitative","scale":{"domain":[-79.4,14.3],"nice":false,"zero":false},"axis":null}}},
{"data":{"values":[{}]},"mark":{"type":"rule","color":"#111","strokeWidth":1.6},"encoding":{"x":{"datum":-102,"type":"quantitative","scale":{"domain":[-1383.23,1000.6],"nice":false,"zero":false},"axis":null},"x2":{"datum":900},"y":{"datum":0,"type":"quantitative","scale":{"domain":[-57.7,36],"nice":false,"zero":false},"axis":null}}},
{"data":{"values":[{}]},"mark":{"type":"rule","color":"#111","strokeWidth":1.6},"encoding":{"x":{"datum":-102,"type":"quantitative","scale":{"domain":[-1383.23,1000.6],"nice":false,"zero":false},"axis":null},"x2":{"datum":900},"y":{"datum":0,"type":"quantitative","scale":{"domain":[-37.1,56.6],"nice":false,"zero":false},"axis":null}}},
{"data":{"values":[{}]},"mark":{"type":"rule","color":"#111","strokeWidth":1.6},"encoding":{"x":{"datum":-102,"type":"quantitative","scale":{"domain":[-1383.23,1000.6],"nice":false,"zero":false},"axis":null},"x2":{"datum":900},"y":{"datum":0.1,"type":"quantitative","scale":{"domain":[-18.6,75.1],"nice":false,"zero":false},"axis":null},"y2":{"datum":-0.2}}},
{"data":{"name":"lo_fpzn_3"},"mark":{"type":"line","color":"#1a3cff","strokeWidth":3.6,"strokeDash":[4,3.5]},"encoding":{"x":{"field":"t","type":"quantitative","scale":{"domain":[-172.11,2206.97],"nice":false,"zero":false},"axis":null},"y":{"field":"v","type":"quantitative","scale":{"domain":[-79.3,14.4],"nice":false,"zero":false},"axis":null}}},
{"data":{"name":"lo_fpzn_2"},"mark":{"type":"line","color":"#ff2a1a","strokeWidth":2.6,"strokeDash":[0.1,4.4],"strokeCap":"round"},"encoding":{"x":{"field":"t","type":"quantitative","scale":{"domain":[-172.11,2206.97],"nice":false,"zero":false},"axis":null},"y":{"field":"v","type":"quantitative","scale":{"domain":[-79.3,14.4],"nice":false,"zero":false},"axis":null}}},
{"data":{"name":"lo_fpzn_1"},"mark":{"type":"line","color":"#22e622","strokeWidth":3.7,"strokeCap":"round","strokeJoin":"round"},"encoding":{"x":{"field":"t","type":"quantitative","scale":{"domain":[-172.11,2206.97],"nice":false,"zero":false},"axis":{"orient":"bottom","values":[0,100,200,300,400,500,600,700,800,900],"domain":false,"grid":false,"tickSize":16,"tickWidth":1.5,"tickColor":"#000","labelFont":"Liberation Sans","labelFontSize":17,"labelColor":"#000","labelPadding":8,"labelFlush":false,"labelOverlap":false,"title":null,"zindex":1}},"y":{"field":"v","type":"quantitative","scale":{"domain":[-79.3,14.4],"nice":false,"zero":false},"axis":null}}},
{"data":{"name":"lo_fzn_3"},"mark":{"type":"line","color":"#1a3cff","strokeWidth":3.6,"strokeDash":[4,3.5]},"encoding":{"x":{"field":"t","type":"quantitative","scale":{"domain":[-172.11,2206.97],"nice":false,"zero":false},"axis":null},"y":{"field":"v","type":"quantitative","scale":{"domain":[-57.7,36],"nice":false,"zero":false},"axis":null}}},
{"data":{"name":"lo_fzn_2"},"mark":{"type":"line","color":"#ff2a1a","strokeWidth":2.6,"strokeDash":[0.1,4.4],"strokeCap":"round"},"encoding":{"x":{"field":"t","type":"quantitative","scale":{"domain":[-172.11,2206.97],"nice":false,"zero":false},"axis":null},"y":{"field":"v","type":"quantitative","scale":{"domain":[-57.7,36],"nice":false,"zero":false},"axis":null}}},
{"data":{"name":"lo_fzn_1"},"mark":{"type":"line","color":"#22e622","strokeWidth":3.7,"strokeCap":"round","strokeJoin":"round"},"encoding":{"x":{"field":"t","type":"quantitative","scale":{"domain":[-172.11,2206.97],"nice":false,"zero":false},"axis":null},"y":{"field":"v","type":"quantitative","scale":{"domain":[-57.7,36],"nice":false,"zero":false},"axis":null}}},
{"data":{"name":"lo_fpzs_3"},"mark":{"type":"line","color":"#1a3cff","strokeWidth":3.6,"strokeDash":[4,3.5]},"encoding":{"x":{"field":"t","type":"quantitative","scale":{"domain":[-172.11,2206.97],"nice":false,"zero":false},"axis":null},"y":{"field":"v","type":"quantitative","scale":{"domain":[-37.1,56.6],"nice":false,"zero":false},"axis":null}}},
{"data":{"name":"lo_fpzs_2"},"mark":{"type":"line","color":"#ff2a1a","strokeWidth":2.6,"strokeDash":[0.1,4.4],"strokeCap":"round"},"encoding":{"x":{"field":"t","type":"quantitative","scale":{"domain":[-172.11,2206.97],"nice":false,"zero":false},"axis":null},"y":{"field":"v","type":"quantitative","scale":{"domain":[-37.1,56.6],"nice":false,"zero":false},"axis":null}}},
{"data":{"name":"lo_fpzs_1"},"mark":{"type":"line","color":"#22e622","strokeWidth":3.7,"strokeCap":"round","strokeJoin":"round"},"encoding":{"x":{"field":"t","type":"quantitative","scale":{"domain":[-172.11,2206.97],"nice":false,"zero":false},"axis":null},"y":{"field":"v","type":"quantitative","scale":{"domain":[-37.1,56.6],"nice":false,"zero":false},"axis":null}}},
{"data":{"name":"lo_fzs_3"},"mark":{"type":"line","color":"#1a3cff","strokeWidth":3.6,"strokeDash":[4,3.5]},"encoding":{"x":{"field":"t","type":"quantitative","scale":{"domain":[-172.11,2206.97],"nice":false,"zero":false},"axis":null},"y":{"field":"v","type":"quantitative","scale":{"domain":[-18.6,75.1],"nice":false,"zero":false},"axis":null}}},
{"data":{"name":"lo_fzs_2"},"mark":{"type":"line","color":"#ff2a1a","strokeWidth":2.6,"strokeDash":[0.1,4.4],"strokeCap":"round"},"encoding":{"x":{"field":"t","type":"quantitative","scale":{"domain":[-172.11,2206.97],"nice":false,"zero":false},"axis":null},"y":{"field":"v","type":"quantitative","scale":{"domain":[-18.6,75.1],"nice":false,"zero":false},"axis":null}}},
{"data":{"name":"lo_fzs_1"},"mark":{"type":"line","color":"#22e622","strokeWidth":3.7,"strokeCap":"round","strokeJoin":"round"},"encoding":{"x":{"field":"t","type":"quantitative","scale":{"domain":[-172.11,2206.97],"nice":false,"zero":false},"axis":null},"y":{"field":"v","type":"quantitative","scale":{"domain":[-18.6,75.1],"nice":false,"zero":false},"axis":null}}},
{"data":{"name":"hi_fpzn_3"},"mark":{"type":"line","color":"#1a3cff","strokeWidth":3.6,"strokeDash":[4,3.5]},"encoding":{"x":{"field":"t","type":"quantitative","scale":{"domain":[-1383.23,1000.6],"nice":false,"zero":false},"axis":null},"y":{"field":"v","type":"quantitative","scale":{"domain":[-79.4,14.3],"nice":false,"zero":false},"axis":null}}},
{"data":{"name":"hi_fpzn_2"},"mark":{"type":"line","color":"#ff2a1a","strokeWidth":2.6,"strokeDash":[0.1,4.4],"strokeCap":"round"},"encoding":{"x":{"field":"t","type":"quantitative","scale":{"domain":[-1383.23,1000.6],"nice":false,"zero":false},"axis":null},"y":{"field":"v","type":"quantitative","scale":{"domain":[-79.4,14.3],"nice":false,"zero":false},"axis":null}}},
{"data":{"name":"hi_fpzn_1"},"mark":{"type":"line","color":"#22e622","strokeWidth":3.7,"strokeCap":"round","strokeJoin":"round"},"encoding":{"x":{"field":"t","type":"quantitative","scale":{"domain":[-1383.23,1000.6],"nice":false,"zero":false},"axis":{"orient":"bottom","values":[0,100,200,300,400,500,600,700,800,900],"domain":false,"grid":false,"tickSize":16,"tickWidth":1.5,"tickColor":"#000","labelFont":"Liberation Sans","labelFontSize":17,"labelColor":"#000","labelPadding":8,"labelFlush":false,"labelOverlap":false,"title":null,"zindex":1}},"y":{"field":"v","type":"quantitative","scale":{"domain":[-79.4,14.3],"nice":false,"zero":false},"axis":null}}},
{"data":{"name":"hi_fzn_3"},"mark":{"type":"line","color":"#1a3cff","strokeWidth":3.6,"strokeDash":[4,3.5]},"encoding":{"x":{"field":"t","type":"quantitative","scale":{"domain":[-1383.23,1000.6],"nice":false,"zero":false},"axis":null},"y":{"field":"v","type":"quantitative","scale":{"domain":[-57.7,36],"nice":false,"zero":false},"axis":null}}},
{"data":{"name":"hi_fzn_2"},"mark":{"type":"line","color":"#ff2a1a","strokeWidth":2.6,"strokeDash":[0.1,4.4],"strokeCap":"round"},"encoding":{"x":{"field":"t","type":"quantitative","scale":{"domain":[-1383.23,1000.6],"nice":false,"zero":false},"axis":null},"y":{"field":"v","type":"quantitative","scale":{"domain":[-57.7,36],"nice":false,"zero":false},"axis":null}}},
{"data":{"name":"hi_fzn_1"},"mark":{"type":"line","color":"#22e622","strokeWidth":3.7,"strokeCap":"round","strokeJoin":"round"},"encoding":{"x":{"field":"t","type":"quantitative","scale":{"domain":[-1383.23,1000.6],"nice":false,"zero":false},"axis":null},"y":{"field":"v","type":"quantitative","scale":{"domain":[-57.7,36],"nice":false,"zero":false},"axis":null}}},
{"data":{"name":"hi_fpzs_3"},"mark":{"type":"line","color":"#1a3cff","strokeWidth":3.6,"strokeDash":[4,3.5]},"encoding":{"x":{"field":"t","type":"quantitative","scale":{"domain":[-1383.23,1000.6],"nice":false,"zero":false},"axis":null},"y":{"field":"v","type":"quantitative","scale":{"domain":[-37.1,56.6],"nice":false,"zero":false},"axis":null}}},
{"data":{"name":"hi_fpzs_2"},"mark":{"type":"line","color":"#ff2a1a","strokeWidth":2.6,"strokeDash":[0.1,4.4],"strokeCap":"round"},"encoding":{"x":{"field":"t","type":"quantitative","scale":{"domain":[-1383.23,1000.6],"nice":false,"zero":false},"axis":null},"y":{"field":"v","type":"quantitative","scale":{"domain":[-37.1,56.6],"nice":false,"zero":false},"axis":null}}},
{"data":{"name":"hi_fpzs_1"},"mark":{"type":"line","color":"#22e622","strokeWidth":3.7,"strokeCap":"round","strokeJoin":"round"},"encoding":{"x":{"field":"t","type":"quantitative","scale":{"domain":[-1383.23,1000.6],"nice":false,"zero":false},"axis":null},"y":{"field":"v","type":"quantitative","scale":{"domain":[-37.1,56.6],"nice":false,"zero":false},"axis":null}}},
{"data":{"name":"hi_fzs_3"},"mark":{"type":"line","color":"#1a3cff","strokeWidth":3.6,"strokeDash":[4,3.5]},"encoding":{"x":{"field":"t","type":"quantitative","scale":{"domain":[-1383.23,1000.6],"nice":false,"zero":false},"axis":null},"y":{"field":"v","type":"quantitative","scale":{"domain":[-18.6,75.1],"nice":false,"zero":false},"axis":null}}},
{"data":{"name":"hi_fzs_2"},"mark":{"type":"line","color":"#ff2a1a","strokeWidth":2.6,"strokeDash":[0.1,4.4],"strokeCap":"round"},"encoding":{"x":{"field":"t","type":"quantitative","scale":{"domain":[-1383.23,1000.6],"nice":false,"zero":false},"axis":null},"y":{"field":"v","type":"quantitative","scale":{"domain":[-18.6,75.1],"nice":false,"zero":false},"axis":null}}},
{"data":{"name":"hi_fzs_1"},"mark":{"type":"line","color":"#22e622","strokeWidth":3.7,"strokeCap":"round","strokeJoin":"round"},"encoding":{"x":{"field":"t","type":"quantitative","scale":{"domain":[-1383.23,1000.6],"nice":false,"zero":false},"axis":null},"y":{"field":"v","type":"quantitative","scale":{"domain":[-18.6,75.1],"nice":false,"zero":false},"axis":null}}},
{"data":{"values":[{}]},"mark":{"type":"rule","color":"#000","strokeWidth":1.8},"encoding":{"x":{"datum":-104,"type":"quantitative","scale":{"domain":[-172.11,2206.97],"nice":false,"zero":false},"axis":null},"x2":{"datum":900},"y":{"datum":-79.3,"type":"quantitative","scale":{"domain":[-79.3,14.4],"nice":false,"zero":false},"axis":null}}},
{"data":{"values":[{}]},"mark":{"type":"rule","color":"#000","strokeWidth":1.8},"encoding":{"x":{"datum":-104,"type":"quantitative","scale":{"domain":[-172.11,2206.97],"nice":false,"zero":false},"axis":null},"y":{"datum":-79.3,"type":"quantitative","scale":{"domain":[-79.3,14.4],"nice":false,"zero":false},"axis":null},"y2":{"datum":-77.7}}},
{"data":{"values":[{}]},"mark":{"type":"rule","color":"#000","strokeWidth":1.8},"encoding":{"x":{"datum":900,"type":"quantitative","scale":{"domain":[-172.11,2206.97],"nice":false,"zero":false},"axis":null},"y":{"datum":-77.7,"type":"quantitative","scale":{"domain":[-79.3,14.4],"nice":false,"zero":false},"axis":null},"y2":{"datum":-81.9}}},
{"data":{"values":[{}]},"mark":{"type":"rule","color":"#000","strokeWidth":1.8},"encoding":{"x":{"datum":-102.4,"type":"quantitative","scale":{"domain":[-1383.23,1000.6],"nice":false,"zero":false},"axis":null},"x2":{"datum":900},"y":{"datum":-79.4,"type":"quantitative","scale":{"domain":[-79.4,14.3],"nice":false,"zero":false},"axis":null}}},
{"data":{"values":[{}]},"mark":{"type":"rule","color":"#000","strokeWidth":1.8},"encoding":{"x":{"datum":-102.4,"type":"quantitative","scale":{"domain":[-1383.23,1000.6],"nice":false,"zero":false},"axis":null},"y":{"datum":-79.4,"type":"quantitative","scale":{"domain":[-79.4,14.3],"nice":false,"zero":false},"axis":null},"y2":{"datum":-77.8}}},
{"data":{"values":[{}]},"mark":{"type":"rule","color":"#000","strokeWidth":1.8},"encoding":{"x":{"datum":900,"type":"quantitative","scale":{"domain":[-1383.23,1000.6],"nice":false,"zero":false},"axis":null},"y":{"datum":-77.8,"type":"quantitative","scale":{"domain":[-79.4,14.3],"nice":false,"zero":false},"axis":null},"y2":{"datum":-82.0}}},
{"data":{"values":[{"label":"ms"}]},"mark":{"type":"text","fontSize":12,"align":"left","baseline":"alphabetic","color":"#000"},"encoding":{"x":{"datum":935,"type":"quantitative","scale":{"domain":[-172.11,2206.97],"nice":false,"zero":false},"axis":null},"y":{"datum":-82.8,"type":"quantitative","scale":{"domain":[-79.3,14.4],"nice":false,"zero":false},"axis":null},"text":{"field":"label"}}},
{"data":{"values":[{"label":"ms"}]},"mark":{"type":"text","fontSize":12,"align":"left","baseline":"alphabetic","color":"#000"},"encoding":{"x":{"datum":935,"type":"quantitative","scale":{"domain":[-1383.23,1000.6],"nice":false,"zero":false},"axis":null},"y":{"datum":-82.9,"type":"quantitative","scale":{"domain":[-79.4,14.3],"nice":false,"zero":false},"axis":null},"text":{"field":"label"}}},
{"data":{"values":[{"label":"Low Sensation Seekers"}]},"mark":{"type":"text","fontSize":35,"fontWeight":"bold","align":"center","baseline":"alphabetic","color":"#000"},"encoding":{"x":{"datum":417.7,"type":"quantitative","scale":{"domain":[-172.11,2206.97],"nice":false,"zero":false},"axis":null},"y":{"datum":10.5,"type":"quantitative","scale":{"domain":[-79.3,14.4],"nice":false,"zero":false},"axis":null},"text":{"field":"label"}}},
{"data":{"values":[{"label":"High Sensation Seekers"}]},"mark":{"type":"text","fontSize":35,"fontWeight":"bold","align":"center","baseline":"alphabetic","color":"#000"},"encoding":{"x":{"datum":463.4,"type":"quantitative","scale":{"domain":[-1383.23,1000.6],"nice":false,"zero":false},"axis":null},"y":{"datum":10.4,"type":"quantitative","scale":{"domain":[-79.4,14.3],"nice":false,"zero":false},"axis":null},"text":{"field":"label"}}},
{"data":{"values":[{"label":"New objects"}]},"mark":{"type":"text","fontSize":31,"fontWeight":"bold","align":"center","baseline":"alphabetic","color":"#000"},"encoding":{"x":{"datum":-226.3,"type":"quantitative","scale":{"domain":[-1383.23,1000.6],"nice":false,"zero":false},"axis":null},"y":{"datum":5.07,"type":"quantitative","scale":{"domain":[-79.4,14.3],"nice":false,"zero":false},"axis":null},"text":{"field":"label"}}},
{"data":{"values":[{}]},"mark":{"type":"rule","color":"#000","strokeWidth":2.5},"encoding":{"x":{"datum":-386.2,"type":"quantitative","scale":{"domain":[-1383.23,1000.6],"nice":false,"zero":false},"axis":null},"x2":{"datum":-62.9},"y":{"datum":4.6,"type":"quantitative","scale":{"domain":[-79.4,14.3],"nice":false,"zero":false},"axis":null}}},
{"data":{"values":[{"label":"FPZ"}]},"mark":{"type":"text","fontSize":26,"fontWeight":"bold","align":"center","baseline":"middle","color":"#000"},"encoding":{"x":{"datum":-226.3,"type":"quantitative","scale":{"domain":[-1383.23,1000.6],"nice":false,"zero":false},"axis":null},"y":{"datum":0,"type":"quantitative","scale":{"domain":[-79.4,14.3],"nice":false,"zero":false},"axis":null},"text":{"field":"label"}}},
{"data":{"values":[{"label":"FZ"}]},"mark":{"type":"text","fontSize":26,"fontWeight":"bold","align":"center","baseline":"middle","color":"#000"},"encoding":{"x":{"datum":-226.3,"type":"quantitative","scale":{"domain":[-1383.23,1000.6],"nice":false,"zero":false},"axis":null},"y":{"datum":0,"type":"quantitative","scale":{"domain":[-57.7,36],"nice":false,"zero":false},"axis":null},"text":{"field":"label"}}},
{"data":{"values":[{"label":"FPZ"}]},"mark":{"type":"text","fontSize":26,"fontWeight":"bold","align":"center","baseline":"middle","color":"#000"},"encoding":{"x":{"datum":-226.3,"type":"quantitative","scale":{"domain":[-1383.23,1000.6],"nice":false,"zero":false},"axis":null},"y":{"datum":0,"type":"quantitative","scale":{"domain":[-37.1,56.6],"nice":false,"zero":false},"axis":null},"text":{"field":"label"}}},
{"data":{"values":[{"label":"Studied objects"}]},"mark":{"type":"text","fontSize":31,"fontWeight":"bold","align":"center","baseline":"alphabetic","color":"#000"},"encoding":{"x":{"datum":-226.3,"type":"quantitative","scale":{"domain":[-1383.23,1000.6],"nice":false,"zero":false},"axis":null},"y":{"datum":5.5,"type":"quantitative","scale":{"domain":[-37.1,56.6],"nice":false,"zero":false},"axis":null},"text":{"field":"label"}}},
{"data":{"values":[{}]},"mark":{"type":"rule","color":"#000","strokeWidth":2.5},"encoding":{"x":{"datum":-432.9,"type":"quantitative","scale":{"domain":[-1383.23,1000.6],"nice":false,"zero":false},"axis":null},"x2":{"datum":-19.8},"y":{"datum":4.95,"type":"quantitative","scale":{"domain":[-37.1,56.6],"nice":false,"zero":false},"axis":null}}},
{"data":{"values":[{"label":"FZ"}]},"mark":{"type":"text","fontSize":26,"fontWeight":"bold","align":"center","baseline":"middle","color":"#000"},"encoding":{"x":{"datum":-226.3,"type":"quantitative","scale":{"domain":[-1383.23,1000.6],"nice":false,"zero":false},"axis":null},"y":{"datum":0,"type":"quantitative","scale":{"domain":[-18.6,75.1],"nice":false,"zero":false},"axis":null},"text":{"field":"label"}}},
{"data":{"values":[{}]},"mark":{"type":"rule","color":"#22e622","strokeWidth":4},"encoding":{"x":{"datum":196.3,"type":"quantitative","scale":{"domain":[-1383.23,1000.6],"nice":false,"zero":false},"axis":null},"x2":{"datum":377.2},"y":{"datum":-9.33,"type":"quantitative","scale":{"domain":[-18.6,75.1],"nice":false,"zero":false},"axis":null}}},
{"data":{"values":[{}]},"mark":{"type":"rule","color":"#ff2a1a","strokeWidth":2.6,"strokeDash":[0.1,3.4],"strokeCap":"round"},"encoding":{"x":{"datum":203,"type":"quantitative","scale":{"domain":[-1383.23,1000.6],"nice":false,"zero":false},"axis":null},"x2":{"datum":368.2},"y":{"datum":-12.13,"type":"quantitative","scale":{"domain":[-18.6,75.1],"nice":false,"zero":false},"axis":null}}},
{"data":{"values":[{}]},"mark":{"type":"rule","color":"#1a3cff","strokeWidth":3.8,"strokeDash":[5,5]},"encoding":{"x":{"datum":200.6,"type":"quantitative","scale":{"domain":[-1383.23,1000.6],"nice":false,"zero":false},"axis":null},"x2":{"datum":386.2},"y":{"datum":-15.0,"type":"quantitative","scale":{"domain":[-18.6,75.1],"nice":false,"zero":false},"axis":null}}},
{"data":{"values":[{"label":"1"}]},"mark":{"type":"text","fontSize":26,"align":"left","baseline":"alphabetic","color":"#22e622"},"encoding":{"x":{"datum":-155.7,"type":"quantitative","scale":{"domain":[-1383.23,1000.6],"nice":false,"zero":false},"axis":null},"y":{"datum":-9.8,"type":"quantitative","scale":{"domain":[-18.6,75.1],"nice":false,"zero":false},"axis":null},"text":{"field":"label"}}},
{"data":{"values":[{"label":"st"}]},"mark":{"type":"text","fontSize":15,"align":"left","baseline":"alphabetic","color":"#22e622"},"encoding":{"x":{"datum":-129.3,"type":"quantitative","scale":{"domain":[-1383.23,1000.6],"nice":false,"zero":false},"axis":null},"y":{"datum":-8.9,"type":"quantitative","scale":{"domain":[-18.6,75.1],"nice":false,"zero":false},"axis":null},"text":{"field":"label"}}},
{"data":{"values":[{"label":"presentation:"}]},"mark":{"type":"text","fontSize":26,"align":"left","baseline":"alphabetic","color":"#22e622"},"encoding":{"x":{"datum":-93,"type":"quantitative","scale":{"domain":[-1383.23,1000.6],"nice":false,"zero":false},"axis":null},"y":{"datum":-9.8,"type":"quantitative","scale":{"domain":[-18.6,75.1],"nice":false,"zero":false},"axis":null},"text":{"field":"label"}}},
{"data":{"values":[{"label":"2"}]},"mark":{"type":"text","fontSize":26,"align":"left","baseline":"alphabetic","color":"#ff2a1a"},"encoding":{"x":{"datum":-158.6,"type":"quantitative","scale":{"domain":[-1383.23,1000.6],"nice":false,"zero":false},"axis":null},"y":{"datum":-12.7,"type":"quantitative","scale":{"domain":[-18.6,75.1],"nice":false,"zero":false},"axis":null},"text":{"field":"label"}}},
{"data":{"values":[{"label":"nd"}]},"mark":{"type":"text","fontSize":15,"align":"left","baseline":"alphabetic","color":"#ff2a1a"},"encoding":{"x":{"datum":-131.1,"type":"quantitative","scale":{"domain":[-1383.23,1000.6],"nice":false,"zero":false},"axis":null},"y":{"datum":-11.8,"type":"quantitative","scale":{"domain":[-18.6,75.1],"nice":false,"zero":false},"axis":null},"text":{"field":"label"}}},
{"data":{"values":[{"label":"presentation:"}]},"mark":{"type":"text","fontSize":26,"align":"left","baseline":"alphabetic","color":"#ff2a1a"},"encoding":{"x":{"datum":-84,"type":"quantitative","scale":{"domain":[-1383.23,1000.6],"nice":false,"zero":false},"axis":null},"y":{"datum":-12.7,"type":"quantitative","scale":{"domain":[-18.6,75.1],"nice":false,"zero":false},"axis":null},"text":{"field":"label"}}},
{"data":{"values":[{"label":"3"}]},"mark":{"type":"text","fontSize":26,"align":"left","baseline":"alphabetic","color":"#1a3cff"},"encoding":{"x":{"datum":-155.7,"type":"quantitative","scale":{"domain":[-1383.23,1000.6],"nice":false,"zero":false},"axis":null},"y":{"datum":-15.8,"type":"quantitative","scale":{"domain":[-18.6,75.1],"nice":false,"zero":false},"axis":null},"text":{"field":"label"}}},
{"data":{"values":[{"label":"rd"}]},"mark":{"type":"text","fontSize":15,"align":"left","baseline":"alphabetic","color":"#1a3cff"},"encoding":{"x":{"datum":-129.3,"type":"quantitative","scale":{"domain":[-1383.23,1000.6],"nice":false,"zero":false},"axis":null},"y":{"datum":-14.8,"type":"quantitative","scale":{"domain":[-18.6,75.1],"nice":false,"zero":false},"axis":null},"text":{"field":"label"}}},
{"data":{"values":[{"label":"presentation:"}]},"mark":{"type":"text","fontSize":26,"align":"left","baseline":"alphabetic","color":"#1a3cff"},"encoding":{"x":{"datum":-88,"type":"quantitative","scale":{"domain":[-1383.23,1000.6],"nice":false,"zero":false},"axis":null},"y":{"datum":-15.8,"type":"quantitative","scale":{"domain":[-18.6,75.1],"nice":false,"zero":false},"axis":null},"text":{"field":"label"}}}
]
}
